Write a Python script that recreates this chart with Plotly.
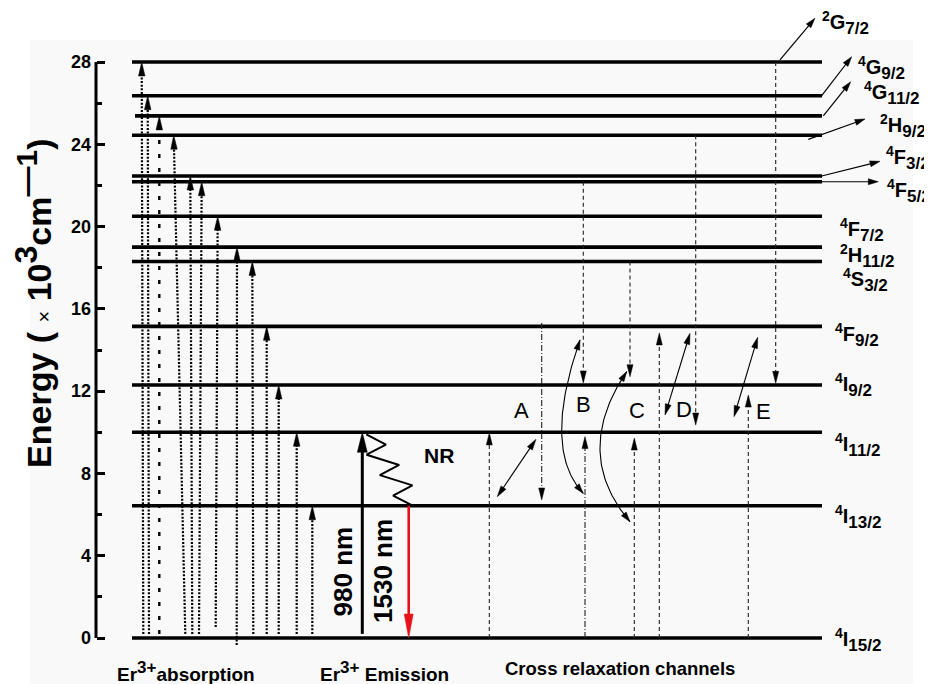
import numpy as np
import plotly.graph_objects as go

# ---------------- data ----------------
level_names = ["4I15/2", "4I13/2", "4I11/2", "4I9/2", "4F9/2", "4S3/2", "2H11/2",
               "4F7/2", "4F5/2", "4F3/2", "2H9/2", "4G11/2", "4G9/2", "2G7/2"]
energies = [0, 6.43, 10.0, 12.3, 15.15, 18.3, 19.0, 20.5, 22.18, 22.46, 24.44, 25.38, 26.36, 28.0]
E = dict(zip(level_names, energies))

ytick_vals = [0, 4, 8, 12, 16, 20, 24, 28]
ytick_text = ["0", "4", "8", "12", "16", "20", "24", "28"]
yminor_vals = [2, 6, 10, 14, 18, 22, 26]

# absorption transitions (ground -> level)
abs_targets = ["2G7/2", "4G9/2", "4G11/2", "2H9/2", "4F3/2", "4F5/2", "4F7/2",
               "2H11/2", "4S3/2", "4F9/2", "4I9/2", "4I11/2", "4I13/2"]
abs_start = [0.2, 0.2, 0.2, 0.2, 0.2, 0.2, 0.53, -0.34, 0.2, 0.2, 0.2, 0.2, 0.2]
abs_x_top = [141.7, 147.7, 159.3, 173.7, 190.3, 201.7, 217.7, 237, 252.3, 266.7, 278.7, 296.7, 312.3]
abs_x_bot = [143.3, 149, 159.3, 185.3, 192.3, 199, 215.7, 236.7, 253.3, 266.7, 278.7, 296.7, 312.3]

# cross relaxation: (x, from, to, style)
cr_vert = [
    (489.3, 0.0, 9.97, "dash"),
    (541.7, 15.31, 6.71, "dashdot"),
    (583.3, 22.18, 12.4, "dash"),
    (585.0, 0.0, 9.79, "dashdot"),
    (630.0, 18.3, 12.7, "dash"),
    (634.3, 0.0, 9.72, "dash"),
    (659.3, 0.0, 14.83, "dash"),
    (695.7, 24.44, 10.35, "dash"),
    (748.3, 0.0, 11.81, "dash"),
    (775.7, 28.0, 12.38, "dash"),
]
cr_diag = [((497.3, 6.87), (536.0, 9.66)),
           ((665.0, 10.84), (690.0, 14.81)),
           ((734.0, 10.76), (757.7, 14.62))]
cr_curves = [((580.0, 14.49), (561.7, 9.97), (583.3, 7.03)),
             ((626.7, 12.95), (600.0, 9.14), (630.0, 5.65))]
cr_letters = ["A", "B", "C", "D", "E"]
cr_letter_pos = [(521, 11.08), (583, 11.33), (637, 11.04), (684, 11.13), (763, 10.99)]

# label arrows for upper levels: (level, x_start, dE_start, x_tip, E_tip)
lab_arrows = [("2G7/2", 780, 0.1, 815, 30.13),
              ("4G9/2", 821.7, 0.0, 851.7, 28.26),
              ("4G11/2", 823.3, 0.0, 850.7, 27.04),
              ("2H9/2", 808.3, -0.2, 865, 25.23),
              ("4F3/2", 821.7, 0.0, 880, 23.17),
              ("4F5/2", 822, 0.0, 878.3, 22.18)]
label_pos = {"4I15/2": (833, -0.10), "4I13/2": (833, 5.88), "4I11/2": (833, 9.38),
             "4I9/2": (833, 12.30), "4F9/2": (833, 14.73), "4S3/2": (841, 17.40),
             "2H11/2": (838, 18.57), "4F7/2": (838, 19.83), "4F5/2": (885, 21.73),
             "4F3/2": (884, 23.33), "2H9/2": (878, 24.89), "4G11/2": (862, 26.49),
             "4G9/2": (856, 27.71), "2G7/2": (820, 29.92)}

# ---------------- layout geometry ----------------
W, H = 932, 684
OFF = 8                      # default page body margin of the html page
K = 576 / 28                 # pixels per energy unit
Y1 = (638 - OFF) / K
Y0 = (638 - OFF - H) / K
LX0, LX1 = 132, 822          # level line extent
X980, X1530 = 362.3, 408.7

def head(xt, et, xf, ef, L=13, Wd=6.5):
    dx = xt - xf
    dy = (et - ef) * K
    n = np.hypot(dx, dy)
    ux, uy = dx / n, dy / n
    bx, by = xt - L * ux, et * K - L * uy
    px, py = -uy, ux
    pts = [(xt, et * K), (bx + Wd / 2 * px, by + Wd / 2 * py), (bx - Wd / 2 * px, by - Wd / 2 * py), (xt, et * K)]
    return [p[0] for p in pts] + [None], [p[1] / K for p in pts] + [None]

def shaft_end(xt, et, xf, ef, L):
    dx = xt - xf
    dy = (et - ef) * K
    n = np.hypot(dx, dy)
    return xt - L * dx / n, et - L * dy / n / K

fig = go.Figure()

# levels
lx, ly = [], []
for nme, e in zip(level_names, energies):
    x0 = LX0 + (3 if nme == "4G11/2" else 0)
    lx += [x0, LX1, None]
    ly += [e, e, None]
fig.add_trace(go.Scatter(x=lx, y=ly, mode="lines", line=dict(color="black", width=3.6),
                         hoverinfo="skip", showlegend=False))

# axis line
fig.add_trace(go.Scatter(x=[96, 96], y=[0, 28], mode="lines", line=dict(color="black", width=3),
                         cliponaxis=False, hoverinfo="skip", showlegend=False))

heads_x, heads_y = [], []
# absorption arrows
ax_, ay_, sx_, sy_ = [], [], [], []
for t, s, xt, xb in zip(abs_targets, abs_start, abs_x_top, abs_x_bot):
    et = E[t]
    ex, ey = shaft_end(xt, et, xb, s, 12)
    if t == "4G11/2":
        sx_ += [xb, ex, None]; sy_ += [s, ey, None]
    else:
        ax_ += [xb, ex, None]; ay_ += [s, ey, None]
    hx, hy = head(xt, et, xb, s, L=14, Wd=6.5)
    heads_x += hx; heads_y += hy
fig.add_trace(go.Scatter(x=ax_, y=ay_, mode="lines", line=dict(color="black", width=2.2, dash="2px,1.6px"),
                         hoverinfo="skip", showlegend=False))
fig.add_trace(go.Scatter(x=sx_, y=sy_, mode="lines", line=dict(color="black", width=2.4, dash="4px,10px"),
                         hoverinfo="skip", showlegend=False))

# emission: 980 nm pump
e_top = E["4I11/2"]
ex, ey = shaft_end(X980, e_top, X980, 0.2, 16)
fig.add_trace(go.Scatter(x=[X980, ex], y=[0.2, ey], mode="lines", line=dict(color="black", width=3),
                         hoverinfo="skip", showlegend=False))
hx, hy = head(X980, e_top, X980, 0.2, L=20, Wd=10)
heads_x += hx; heads_y += hy

# 1530 nm emission (red)
e_from = E["4I13/2"]
ex, ey = shaft_end(X1530, 0, X1530, e_from, 20)
fig.add_trace(go.Scatter(x=[X1530, ex], y=[e_from, ey], mode="lines", line=dict(color="#e8101a", width=2.6),
                         hoverinfo="skip", showlegend=False))
rx, ry = head(X1530, 0, X1530, e_from, L=24, Wd=9)
fig.add_trace(go.Scatter(x=rx, y=ry, mode="lines", fill="toself", fillcolor="#e8101a",
                         line=dict(color="#e8101a", width=0.5), hoverinfo="skip", showlegend=False))

# NR zigzag
zs = np.array([X980 + 4, e_top - 0.1])
ze = np.array([X1530 + 4, e_from])
nz = 8
zx, zy = [], []
for i in range(nz):
    t = i / (nz - 1)
    px = zs[0] + t * (ze[0] - zs[0])
    pe = zs[1] + t * (ze[1] - zs[1])
    if 0 < i < nz - 1:
        px += 13 if i % 2 == 1 else -13
    zx.append(px); zy.append(pe)
fig.add_trace(go.Scatter(x=zx, y=zy, mode="lines", line=dict(color="black", width=2),
                         hoverinfo="skip", showlegend=False))

# cross relaxation verticals
for style, dash in [("dash", "4px,3px"), ("dashdot", "6px,2px,1px,2px")]:
    vx, vy = [], []
    for x, ef, et, st in cr_vert:
        if st != style:
            continue
        ex, ey = shaft_end(x, et, x, ef, 10)
        vx += [x, ex, None]; vy += [ef, ey, None]
        hx, hy = head(x, et, x, ef, L=12, Wd=6)
        heads_x += hx; heads_y += hy
    fig.add_trace(go.Scatter(x=vx, y=vy, mode="lines", line=dict(color="#222", width=1.1, dash=dash),
                             hoverinfo="skip", showlegend=False))

# diagonal double-headed arrows
dx_, dy_ = [], []
for (a, b) in cr_diag:
    s0 = shaft_end(a[0], a[1], b[0], b[1], 8)
    s1 = shaft_end(b[0], b[1], a[0], a[1], 8)
    dx_ += [s0[0], s1[0], None]; dy_ += [s0[1], s1[1], None]
    for p, q in [(a, b), (b, a)]:
        hx, hy = head(p[0], p[1], q[0], q[1], L=11, Wd=6)
        heads_x += hx; heads_y += hy

# curves
cx_, cy_ = [], []
for p0, m, p2 in cr_curves:
    p0 = np.array(p0); m = np.array(m); p2 = np.array(p2)
    p1 = 2 * m - (p0 + p2) / 2
    ts = np.linspace(0, 1, 60)
    pts = [(1 - t) ** 2 * p0 + 2 * (1 - t) * t * p1 + t ** 2 * p2 for t in ts]
    cx_ += [p[0] for p in pts] + [None]; cy_ += [p[1] for p in pts] + [None]
    hx, hy = head(p0[0], p0[1], pts[4][0], pts[4][1], L=10, Wd=6)
    heads_x += hx; heads_y += hy
    hx, hy = head(p2[0], p2[1], pts[-5][0], pts[-5][1], L=10, Wd=6)
    heads_x += hx; heads_y += hy
fig.add_trace(go.Scatter(x=dx_ + cx_, y=dy_ + cy_, mode="lines", line=dict(color="black", width=1.1),
                         hoverinfo="skip", showlegend=False))

# label arrows
lax, lay = [], []
for nme, xs, de, xt, et in lab_arrows:
    es = E[nme] + de
    ex, ey = shaft_end(xt, et, xs, es, 8)
    lax += [xs, ex, None]; lay += [es, ey, None]
    hx, hy = head(xt, et, xs, es, L=10, Wd=6)
    heads_x += hx; heads_y += hy
fig.add_trace(go.Scatter(x=lax, y=lay, mode="lines", line=dict(color="black", width=1.2),
                         hoverinfo="skip", showlegend=False))

# heads
fig.add_trace(go.Scatter(x=heads_x, y=heads_y, mode="lines", fill="toself", fillcolor="black",
                         line=dict(color="black", width=0.5), hoverinfo="skip", showlegend=False))

# ---------------- annotations ----------------
ann = []
FONT = "Liberation Sans, Arial, sans-serif"
for nme in level_names:
    x, y = label_pos[nme]
    txt = "<sup>%s</sup>%s<sub><span style='font-size:17px'>%s</span></sub>" % (nme[0], nme[1], nme[2:])
    ann.append(dict(x=x, y=y, text=txt, showarrow=False, xanchor="left", yanchor="middle",
                    font=dict(family=FONT, size=20, color="black", weight="bold")))
for L_, (x, y) in zip(cr_letters, cr_letter_pos):
    ann.append(dict(x=x, y=y, text=L_, showarrow=False, font=dict(family=FONT, size=22, color="black")))

ann.append(dict(x=33, y=16.24,
                text="Energy ( <span style='font-weight:normal;font-size:20px'>×</span> 10<sup><span style='font-size:32px'>3</span></sup>cm<sup><span style='font-size:30px'>—1</span></sup>)",
                textangle=-90, showarrow=False, font=dict(family=FONT, size=34, color="black", weight="bold")))
ann.append(dict(x=342.5, y=3.21, text="980 nm", textangle=-90, showarrow=False,
                font=dict(family=FONT, size=26, color="black", weight="bold")))
ann.append(dict(x=383, y=3.26, text="1530 nm", textangle=-90, showarrow=False,
                font=dict(family=FONT, size=26, color="black", weight="bold")))
ann.append(dict(x=422, y=8.85, text="NR", showarrow=False, xanchor="left",
                font=dict(family=FONT, size=21, color="black", weight="bold")))
ann.append(dict(x=115, y=-1.62, text="Er<sup><span style='font-size:17px'>3+</span></sup>absorption", showarrow=False, xanchor="left",
                font=dict(family=FONT, size=19, color="black", weight="bold")))
ann.append(dict(x=318, y=-1.62, text="Er<sup><span style='font-size:17px'>3+</span></sup> Emission", showarrow=False, xanchor="left",
                font=dict(family=FONT, size=19, color="black", weight="bold")))
ann.append(dict(x=620, y=-1.5, text="Cross relaxation channels", showarrow=False,
                font=dict(family=FONT, size=18.5, color="black", weight="bold")))

fig.update_layout(
    width=W, height=H,
    margin=dict(l=0, r=0, t=0, b=0),
    paper_bgcolor="white", plot_bgcolor="rgba(0,0,0,0)",
    showlegend=False,
    annotations=ann,
    shapes=[dict(type="rect", xref="paper", yref="paper", x0=(30 - OFF) / W, x1=(913 - OFF) / W,
                 y0=0, y1=(H - 40 + OFF) / H,
                 fillcolor="#f9f9f9", line=dict(width=0), layer="below")],
    xaxis=dict(range=[OFF, W + OFF], visible=False, fixedrange=True),
    yaxis=dict(range=[Y0, Y1], anchor="free", position=(96 - OFF) / W, showline=False, showgrid=False,
               zeroline=False, tickmode="array", tickvals=ytick_vals,
               ticktext=["<b>%s</b>" % t for t in ytick_text],
               ticks="inside", ticklen=8, tickwidth=2.5, tickcolor="black", ticklabelstandoff=5,
               tickfont=dict(family=FONT, size=18, color="black"),
               minor=dict(tickmode="array", tickvals=yminor_vals, ticks="inside", ticklen=5,
                          tickwidth=2.5, tickcolor="black", showgrid=False)),
)
fig.write_html("out.html")
